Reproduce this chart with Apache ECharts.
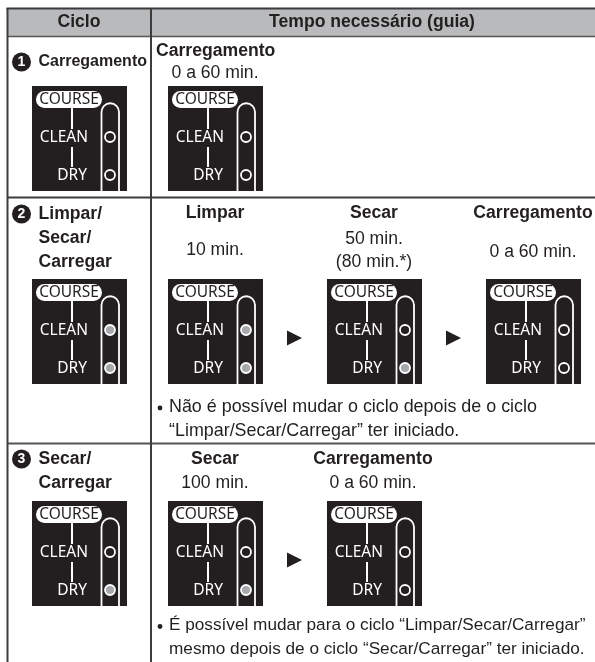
<!DOCTYPE html>
<html>
<head>
<meta charset="utf-8">
<title>Ciclo</title>
<script src="https://cdn.jsdelivr.net/npm/echarts@6/dist/echarts.min.js"></script>
<style>
  html, body { margin: 0; padding: 0; background: #fff; }
  #main { width: 595px; height: 662px; }
</style>
</head>
<body>
<div id="main"></div>
<script>
// textos da tabela
const headers = ['Ciclo', 'Tempo necessário (guia)'];
const cycleNumbers = ['1', '2', '3'];
const cycleLabels = [['Carregamento'], ['Limpar/', 'Secar/', 'Carregar'], ['Secar/', 'Carregar']];
const row1Steps = ['Carregamento'];
const row1Times = [['0 a 60 min.']];
const row2Steps = ['Limpar', 'Secar', 'Carregamento'];
const row2Times = [['10 min.'], ['50 min.', '(80 min.*)'], ['0 a 60 min.']];
const row3Steps = ['Secar', 'Carregamento'];
const row3Times = [['100 min.'], ['0 a 60 min.']];
const row2Note = ['Não é possível mudar o ciclo depois de o ciclo', '“Limpar/Secar/Carregar” ter iniciado.'];
const row3Note = ['É possível mudar para o ciclo “Limpar/Secar/Carregar”', 'mesmo depois de o ciclo “Secar/Carregar” ter iniciado.'];
// luzes [CLEAN, DRY]: 1 = acesa
const leftLeds = [[0, 0], [1, 1], [0, 1]];
const row1Leds = [[0, 0]];
const row2Leds = [[1, 1], [0, 1], [0, 0]];
const row3Leds = [[0, 1], [0, 0]];

const INK = '#231f20';
const PANEL = '#231f20';
const LINE = '#3c3c3c';
const SANS = '"Liberation Sans", Arial, sans-serif';
const DISPLAY = '"Noto Sans", sans-serif';
const L = 7.5, R = 595, MID = 151;

const items = [];

function txt(x, y, s, size, bold, align, color, family) {
    items.push({
        type: 'text', x, y, silent: true, z: 5,
        style: {
            text: s, fill: color || INK, fontFamily: family || SANS,
            fontSize: size, fontWeight: bold ? 'bold' : 'normal',
            align: align || 'left', verticalAlign: 'middle'
        }
    });
}

function line(x1, y1, x2, y2, color, width) {
    items.push({
        type: 'line', silent: true, z: 4,
        shape: {x1, y1, x2, y2},
        style: {stroke: color || LINE, lineWidth: width || 2}
    });
}

function panel(x, y, leds) {
    items.push({type: 'rect', silent: true, z: 2, shape: {x, y, width: 95, height: 105}, style: {fill: PANEL}});
    // trilho
    line(x + 69.5, y + 26, x + 69.5, y + 105, '#fff', 1.8);
    line(x + 87, y + 26, x + 87, y + 105, '#fff', 1.8);
    items.push({
        type: 'arc', silent: true, z: 3,
        shape: {cx: x + 78.25, cy: y + 26, r: 8.75, startAngle: Math.PI, endAngle: 0, clockwise: true},
        style: {stroke: '#fff', lineWidth: 1.8, fill: null}
    });
    // ligações
    line(x + 40, y + 22, x + 40, y + 43, '#fff', 2);
    line(x + 40, y + 61, x + 40, y + 81, '#fff', 2);
    items.push({
        type: 'rect', silent: true, z: 4,
        shape: {x: x + 4, y: y + 5, width: 66, height: 17, r: 8.5},
        style: {fill: '#fff'}
    });
    txt(x + 37, y + 13.5, 'COURSE', 15.5, false, 'center', INK, DISPLAY);
    txt(x + 56, y + 52, 'CLEAN', 15.5, false, 'right', '#fff', DISPLAY);
    txt(x + 55, y + 90, 'DRY', 15.5, false, 'right', '#fff', DISPLAY);
    [51, 89].forEach((dy, i) => {
        items.push({
            type: 'circle', silent: true, z: 4,
            shape: {cx: x + 78, cy: y + dy, r: 5},
            style: {fill: leds[i] ? '#a7a9ac' : PANEL, stroke: '#fff', lineWidth: 1.8}
        });
    });
}

function arrow(x, y) {
    items.push({
        type: 'polygon', silent: true, z: 2,
        shape: {points: [[x, y - 7.5], [x + 15, y], [x, y + 7.5]]},
        style: {fill: INK}
    });
}

function badge(y, n) {
    items.push({type: 'circle', silent: true, z: 4, shape: {cx: 21.5, cy: y, r: 9.5}, style: {fill: INK}});
    txt(21.5, y + 0.5, n, 14, true, 'center', '#fff');
}

function note(y, lines, size) {
    items.push({type: 'circle', silent: true, z: 4, shape: {cx: 160, cy: y + 1, r: 2.4}, style: {fill: INK}});
    txt(169, y, lines[0], size);
    txt(169, y + 24, lines[1], size);
}

// grade da tabela
items.push({type: 'rect', silent: true, z: 1, shape: {x: L, y: 8.5, width: R - L, height: 27.5}, style: {fill: '#b9babc'}});
line(L - 1, 8.5, R, 8.5);
line(L, 36.5, R, 36.5, '#555', 1.5);
line(L, 197.5, R, 197.5);
line(L, 443.5, R, 443.5, '#555', 2);
line(L, 8, L, 662);
line(MID, 8, MID, 662);
txt(79, 22.5, headers[0], 17.6, true, 'center');
txt(372, 22.5, headers[1], 17.6, true, 'center');

// coluna Ciclo
const leftPanelY = [86, 279, 501];
const leftLabelY = [[62], [214, 238, 262], [459, 483]];
const leftLabelSize = [16, 17.6, 17.6];
cycleLabels.forEach((ls, r) => {
    badge(leftLabelY[r][0], cycleNumbers[r]);
    ls.forEach((s, i) => txt(38.5, leftLabelY[r][i], s, leftLabelSize[r], true));
    panel(32, leftPanelY[r], leftLeds[r]);
});

// linha 1
txt(156, 51, row1Steps[0], 17.6, true);
txt(215, 73, row1Times[0][0], 17.6, false, 'center');
panel(168, 86, row1Leds[0]);

// linha 2
const row2X = [215, 374, 533];
const row2TimeY = [[250], [239, 262], [252]];
const row2PanelX = [168, 327, 486];
row2Steps.forEach((s, i) => {
    txt(row2X[i], 213.5, s, 17.6, true, 'center');
    row2Times[i].forEach((t, j) => txt(row2X[i], row2TimeY[i][j], t, 17.6, false, 'center'));
    panel(row2PanelX[i], 279, row2Leds[i]);
});
arrow(287, 338);
arrow(446, 338);
note(407, row2Note, 17.9);

// linha 3
const row3X = [215, 373];
const row3PanelX = [168, 327];
row3Steps.forEach((s, i) => {
    txt(row3X[i], 459, s, 17.6, true, 'center');
    txt(row3X[i], 483, row3Times[i][0], 17.6, false, 'center');
    panel(row3PanelX[i], 501, row3Leds[i]);
});
arrow(287, 560);
note(625.5, row3Note, 17.2);

const myChart = echarts.init(document.getElementById('main'), null, {renderer: 'canvas'});
myChart.setOption({
    backgroundColor: '#fff',
    animation: false,
    graphic: {elements: items}
});
</script>
</body>
</html>
